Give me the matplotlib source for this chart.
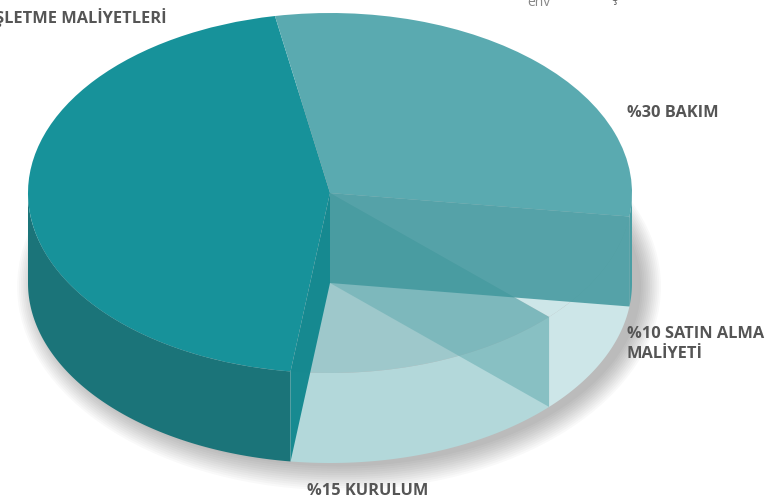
import numpy as np
import matplotlib
matplotlib.use("Agg")
import matplotlib.pyplot as plt
from matplotlib.patches import Ellipse

plt.rcParams['font.family'] = ['Open Sans', 'DejaVu Sans']

# data
labels = ["%45 İŞLETME MALİYETLERİ", "%15 KURULUM", "%10 SATIN ALMA\nMALİYETİ", "%30 BAKIM"]
shares = [45, 15, 10, 30]

top_colors = ['#17929a', '#9ec8cb', '#cde6e8', '#5aaab0']
side_colors = ['#1b7479', '#b3d8da', '#cde6e8', '#4a9ea4']
# inner radial walls, seen through the light slices
wall_colors = ['#0f868d', '#5ea9ae', '#40979d']
wall_alpha = [0.95, 0.5, 0.85]

start = 100.5
depth = 0.5

fig = plt.figure(figsize=(7.73, 4.99), dpi=100)
ax = fig.add_axes([0, 0, 1, 1])

bounds = start + 360 * np.concatenate([[0], np.cumsum(shares)]) / sum(shares)

# soft shadow
for k in range(12):
    ax.add_patch(Ellipse((0.03, -depth - 0.02), 2 * (1.0 + 0.006 * k), 2 * (1.0 + 0.012 * k),
                         facecolor='black', alpha=0.025, edgecolor='none', zorder=0))

# outer side walls (front half only)
for i in range(len(shares)):
    t = np.linspace(bounds[i], bounds[i + 1], 300)
    t = t[np.sin(np.radians(t)) <= 1e-9]
    if len(t) < 2:
        continue
    x = np.cos(np.radians(t))
    y = np.sin(np.radians(t))
    ax.fill(np.concatenate([x, x[::-1]]), np.concatenate([y, y[::-1] - depth]),
            color=side_colors[i], linewidth=0, zorder=3)

# top face
wedges, _ = ax.pie(shares, startangle=start, counterclock=True, center=(0, 0), radius=1,
                   colors=top_colors, wedgeprops=dict(linewidth=0))
for w in wedges:
    w.set_zorder(4)

# radial inner walls, drawn translucent over the light slices
for i, a in enumerate(bounds[1:-1]):
    c, s = np.cos(np.radians(a)), np.sin(np.radians(a))
    ax.fill([0, c, c, 0], [0, s, s - depth, -depth], color=wall_colors[i],
            alpha=wall_alpha[i], linewidth=0, zorder=5)

ax.set_aspect('auto')
ax.set_xlim(-330 / 302, 443 / 302)
ax.set_ylim(-306 / 180, 193 / 180)
ax.axis('off')

# labels (figure pixel positions)
lab_kw = dict(fontsize=11.8, fontweight='bold', color='#555555', transform=None)
def px(x, y):
    return fig.transFigure.transform((x / 773, 1 - y / 499))

ax.text(*px(166, 18), labels[0], ha='right', va='center', **lab_kw)
ax.text(*px(627, 113), labels[3], ha='left', va='center', **lab_kw)
ax.text(*px(627, 344), labels[2], ha='left', va='center', linespacing=1.4, **lab_kw)
ax.text(*px(307, 491), labels[1], ha='left', va='center', **lab_kw)
ax.text(*px(527, 2), "env", ha='left', va='center', fontsize=10, color='#888888', transform=None)
ax.text(*px(611, -3), "ş", ha='left', va='center', fontsize=10, color='#666666', transform=None)

fig.savefig("out.png", dpi=100)
